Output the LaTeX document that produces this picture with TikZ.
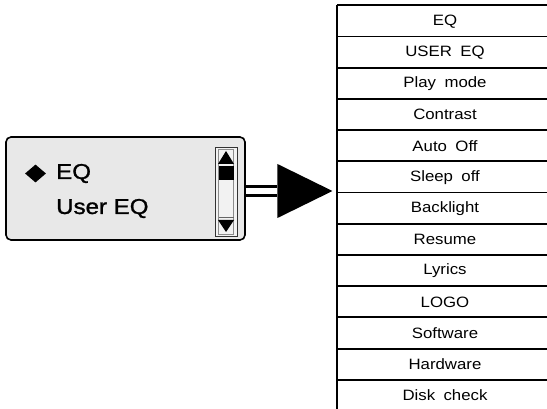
\documentclass[tikz,border=0pt]{standalone}
\usepackage{fontspec}
\setmainfont{Liberation Sans}
\newfontfamily\menufont[FakeStretch=1.12,WordSpace=1.8]{Liberation Sans}
\newfontfamily\lcdfont[FakeStretch=1.12,FakeBold=1.2]{Liberation Sans}
\usetikzlibrary{positioning,calc,shapes.geometric}

\tikzset{
  menurow/.style={minimum width=216pt, minimum height=31.2pt, inner sep=0pt,
    font=\menufont\fontsize{15}{17}\selectfont},
  screentext/.style={anchor=west, inner sep=0pt, font=\lcdfont\fontsize{21.5}{23}\selectfont}
}

\begin{document}
\begin{tikzpicture}[x=1pt, y=-1pt]
  \useasboundingbox (0,0) rectangle (547,409);

  % LCD screen with menu entries
  \node[draw, line width=1.6pt, rounded corners=5pt, fill=black!9,
        minimum width=239pt, minimum height=103pt] (screen) at (125.5,188.5) {};
  \node[diamond, fill, inner sep=0pt, minimum width=21pt, minimum height=18pt] (cursor) at (35.5,173.5) {};
  \node[screentext] (itemEQ) at (56,173.5) {EQ};
  \node[screentext] (itemUser) at (56,208.5) {User EQ};

  % scroll bar
  \node[draw=black!80, line width=1pt, fill=black!5, inner sep=0pt,
        minimum width=22pt, minimum height=89pt] (scroll) at (226,192) {};
  \draw[black!45, line width=0.8pt] (218.5,149.5) rectangle (233.5,234.5);
  \fill (218,164) -- (226,151) -- (234,164) -- cycle;
  \fill (218.5,166) rectangle (233.5,180);
  \draw[black!60, line width=0.8pt] (218.5,217) -- (233.5,217);
  \fill (218,220) -- (234,220) -- (226,232) -- cycle;

  % double line and big arrow head
  \node[isosceles triangle, isosceles triangle stretches, fill, inner sep=0pt,
        minimum height=55pt, minimum width=54pt, anchor=apex] (head) at (333,191) {};
  \draw[double, double distance=6.5pt, line width=3pt] (screen.east |- head.apex) -- (head.west);

  % menu list
  \foreach \txt [count=\i] in {EQ, USER EQ, Play mode, Contrast, Auto Off, Sleep off,
      Backlight, Resume, Lyrics, LOGO, Software, Hardware, Disk check}
    \node[menurow] (row\i) at (445, 5.6+31.2*\i-15.6) {\txt};
  \foreach \i in {1,...,13}
    \draw[line width=1.8pt] (row\i.north west) -- (row\i.north east);
  \draw[line width=1.8pt] (row1.north west) -- (row13.south west);
\end{tikzpicture}
\end{document}
